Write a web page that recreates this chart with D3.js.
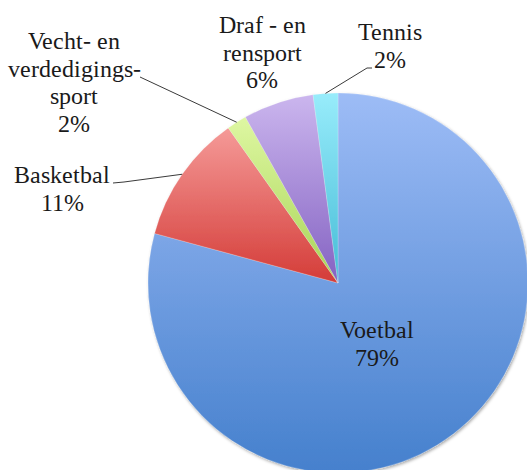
<!DOCTYPE html>
<html>
<head>
<meta charset="utf-8">
<script src="https://cdn.jsdelivr.net/npm/d3@7"></script>
<style>
  @font-face { font-family: "LabelSerif"; src: local("Liberation Serif"), local("LiberationSerif"), local("Liberation Serif Regular"), local("LiberationSerif-Regular"); }
  body { margin: 0; background: #fff; }
  svg { display: block; }
  .lbl { font-family: "LabelSerif", "Liberation Serif", Tinos, "Times New Roman", serif; font-size: 24px; fill: #1a1a1a; }
</style>
</head>
<body>
<svg id="chart" width="527" height="470"></svg>
<script>
// sports share (percent), clockwise from 12 o'clock
var categories = ["Voetbal", "Basketbal", "Vecht- en verdedigingssport", "Draf - en rensport", "Tennis"];
var values = [79.2, 11.0, 1.7, 6.0, 2.1];
var shownPct = ["79%", "11%", "2%", "6%", "2%"];
var labelLines = [
    ["Voetbal"],
    ["Basketbal"],
    ["Vecht- en", "verdedigings-", "sport"],
    ["Draf - en", "rensport"],
    ["Tennis"]
];
// gradient top / bottom colours per slice
var colorTop = ["#9dbcf6", "#f59a98", "#def7a2", "#cbb6ee", "#98ecfb"];
var colorBottom = ["#4580cd", "#d43c38", "#a8d456", "#8462c2", "#45bcd6"];

var svg = d3.select("#chart");

var cx = 338, cy = 283, radius = 190;

var defs = svg.append("defs");
categories.forEach(function(c, i) {
    var gr = defs.append("linearGradient")
        .attr("id", "grad" + i)
        .attr("x1", 0).attr("y1", 0).attr("x2", 0).attr("y2", 1);
    gr.append("stop").attr("offset", "0%").attr("stop-color", colorTop[i]);
    gr.append("stop").attr("offset", "100%").attr("stop-color", colorBottom[i]);
});

defs.append("filter").attr("id", "shadow")
    .attr("x", "-10%").attr("y", "-10%").attr("width", "120%").attr("height", "120%")
  .append("feDropShadow")
    .attr("dx", 1).attr("dy", 1.5).attr("stdDeviation", 1.5)
    .attr("flood-color", "#000").attr("flood-opacity", 0.35);

var pie = d3.pie().sort(null).value(function(d) { return d; });
var arcs = pie(values);
var arc = d3.arc().innerRadius(0).outerRadius(radius);

svg.append("g")
    .attr("transform", "translate(" + cx + "," + cy + ")")
    .attr("filter", "url(#shadow)")
    .selectAll("path")
    .data(arcs)
    .enter()
    .append("path")
    .attr("d", arc)
    .attr("fill", function(d, i) { return "url(#grad" + i + ")"; })
    .attr("stroke", "rgba(255,255,255,0.35)")
    .attr("stroke-width", 0.6);

// label anchors (text centre x, first baseline y)
var labelPos = [[377, 338], [62, 183], [74, 49], [262, 33], [390, 40]];
var lineH = 27.5;

arcs.forEach(function(d, i) {
    var lines = labelLines[i].concat([shownPct[i]]);
    lines.forEach(function(s, k) {
        svg.append("text")
            .attr("class", "lbl")
            .attr("x", labelPos[i][0])
            .attr("y", labelPos[i][1] + k * lineH)
            .attr("text-anchor", "middle")
            .text(s);
    });
});

// leader lines: from the label to the middle of the slice edge
var edgePoint = function(d) {
    var a = (d.startAngle + d.endAngle) / 2;
    return [cx + radius * Math.sin(a), cy - radius * Math.cos(a)];
};
var leaderStart = { 1: [[113, 183], [124, 182]], 2: [[140, 77]], 4: [[372, 68], [367, 68]] };

Object.keys(leaderStart).forEach(function(k) {
    var pts = leaderStart[k].concat([edgePoint(arcs[k])]);
    svg.append("path")
        .attr("d", d3.line()(pts))
        .attr("fill", "none")
        .attr("stroke", "#3a3a3a")
        .attr("stroke-width", 1);
});
</script>
</body>
</html>
